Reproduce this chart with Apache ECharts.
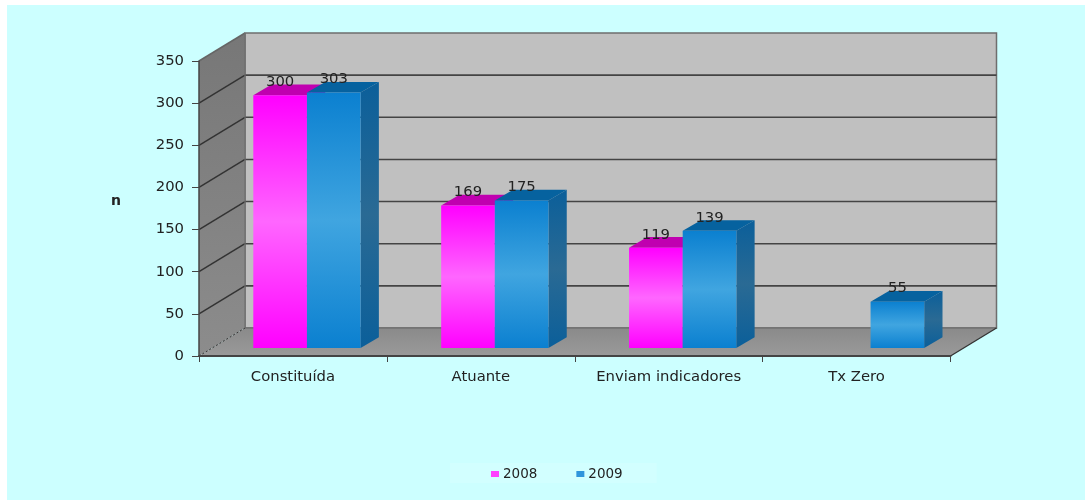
<!DOCTYPE html>
<html><head><meta charset="utf-8">
<style>html,body{margin:0;padding:0;background:#ffffff;width:1085px;height:500px;overflow:hidden}
#back{position:absolute;left:7px;top:5px;width:1078px;height:495px;background:#ccffff}
#chart{position:absolute;left:0;top:0;width:1085px;height:500px}</style>
<script src="https://cdn.jsdelivr.net/npm/echarts@6/dist/echarts.min.js"></script>
</head><body><div id="back"></div><div id="chart"></div>
<script>
const categories = ['Constituída', 'Atuante', 'Enviam indicadores', 'Tx Zero'];
const values2008 = [300, 169, 119, null];
const values2009 = [303, 175, 139, 55];
const yTicks = [0, 50, 100, 150, 200, 250, 300, 350];

const WALL_DX = 46, WALL_DY = 28;
const BAR_SHIFT_X = 14, BAR_SHIFT_Y = 8, BAR_DX = 18.3, BAR_DY = 10.7;
const FONT = '14.8px "DejaVu Sans"';

function vGrad(stops){return new echarts.graphic.LinearGradient(0,0,0,1,stops.map((c,i)=>({offset:i/(stops.length-1),color:c})));}

function renderWalls(params, api){
  const cs = params.coordSys;
  const L = cs.x, R = cs.x + cs.width;
  const B = api.coord([0, 0])[1], T = api.coord([0, 350])[1];
  const ch = [];
  ch.push({type:'polygon',shape:{points:[[L+WALL_DX,T-WALL_DY],[R+WALL_DX,T-WALL_DY],[R+WALL_DX,B-WALL_DY],[L+WALL_DX,B-WALL_DY]]},style:{fill:'#c0c0c0',stroke:'#6e6e6e',lineWidth:1.5}});
  ch.push({type:'polygon',shape:{points:[[L,T],[L+WALL_DX,T-WALL_DY],[L+WALL_DX,B-WALL_DY],[L,B]]},style:{fill:vGrad(['#777777','#8c8c8c'])}});
  ch.push({type:'polygon',shape:{points:[[L,B],[R,B],[R+WALL_DX,B-WALL_DY],[L+WALL_DX,B-WALL_DY]]},style:{fill:vGrad(['#8a8a8a','#9a9a9a'])}});
  yTicks.forEach(t=>{
    const y = api.coord([0,t])[1];
    if(t>0 && t<350){
      ch.push({type:'line',shape:{x1:L+WALL_DX,y1:y-WALL_DY,x2:R+WALL_DX,y2:y-WALL_DY},style:{stroke:'#444444',lineWidth:1.6}});
    }
    if(t>0){
      ch.push({type:'line',shape:{x1:L,y1:y,x2:L+WALL_DX,y2:y-WALL_DY},style:{stroke:t===350?'#666666':'#333333',lineWidth:1.5}});
    }
  });
  ch.push({type:'line',shape:{x1:L,y1:B,x2:L+WALL_DX,y2:B-WALL_DY},style:{stroke:'#333333',lineWidth:1,lineDash:[2,2]}});
  ch.push({type:'line',shape:{x1:L+WALL_DX,y1:B-WALL_DY,x2:R+WALL_DX,y2:B-WALL_DY},style:{stroke:'#666666',lineWidth:1.2}});
  ch.push({type:'line',shape:{x1:R,y1:B,x2:R+WALL_DX,y2:B-WALL_DY},style:{stroke:'#333333',lineWidth:1.3}});
  ch.push({type:'line',shape:{x1:L+WALL_DX,y1:T-WALL_DY,x2:L+WALL_DX,y2:B-WALL_DY},style:{stroke:'#6e6e6e',lineWidth:1.2}});
  return {type:'group',children:ch};
}

function barRenderer(seriesIndex, pal){
  return function(params, api){
    const cat = api.value(0), v = api.value(1);
    if(v == null || isNaN(v)) return null;
    const w = api.size([1,0])[0] * 0.2855;
    const top = api.coord([cat, v]), bot = api.coord([cat, 0]);
    const x0 = top[0] + BAR_SHIFT_X + (seriesIndex === 0 ? -w : 0);
    const x1 = x0 + w;
    const yT = top[1] - BAR_SHIFT_Y, yB = bot[1] - BAR_SHIFT_Y;
    return {type:'group',children:[
      {type:'polygon',shape:{points:[[x1,yT],[x1+BAR_DX,yT-BAR_DY],[x1+BAR_DX,yB-BAR_DY],[x1,yB]]},style:{fill:vGrad(pal.side)}},
      {type:'polygon',shape:{points:[[x0,yT],[x1,yT],[x1+BAR_DX,yT-BAR_DY],[x0+BAR_DX,yT-BAR_DY]]},style:{fill:pal.top}},
      {type:'rect',shape:{x:x0,y:yT,width:w,height:yB-yT},style:{fill:vGrad(pal.front)}},
      {type:'text',z2:50,style:{text:String(v),x:(x0+x1)/2,y:yT-13,align:'center',verticalAlign:'middle',font:FONT,fill:'#222222'}}
    ]};
  };
}
const palettes = [
  {front:['#ff00ff','#ff66ff','#ff00ff'],side:['#c000b0','#c000b0'],top:'#c000b0'},
  {front:['#0b80d0','#40a5e0','#0b80d0'],side:['#0b5f9a','#2a6a94','#0b5f9a'],top:'#06629f'}
];

const chart = echarts.init(document.getElementById('chart'));
chart.setOption({
  backgroundColor:'transparent',
  animation:false,
  legend:{
    data:[{name:'2008',itemStyle:{color:'#ff40ff'}},{name:'2009',itemStyle:{color:'#2f95dc'}}],
    icon:'rect',left:450,top:463,itemWidth:8,itemHeight:6,itemGap:39,
    padding:[4,34,2,41],backgroundColor:'#d2ffff',
    textStyle:{fontFamily:'DejaVu Sans',fontSize:13.5,color:'#222222',padding:[0,0,0,-1]}
  },
  grid:{left:199,right:134.5,top:61,bottom:144},
  xAxis:{type:'category',data:categories,z:5,
    axisLine:{lineStyle:{color:'#444444',width:2}},
    axisTick:{show:true,interval:0,alignWithLabel:false,length:6,lineStyle:{color:'#444444'}},
    axisLabel:{interval:0,fontFamily:'DejaVu Sans',fontSize:14.8,color:'#222222',margin:14}},
  yAxis:{type:'value',min:0,max:350,interval:50,name:'n',nameLocation:'middle',nameRotate:0,nameGap:78,
    nameTextStyle:{fontFamily:'DejaVu Sans',fontSize:14,fontWeight:'bold',color:'#222222',verticalAlign:'bottom'},z:5,
    axisLine:{show:true,lineStyle:{color:'#444444',width:1.5}},
    axisTick:{show:true,length:7,lineStyle:{color:'#444444'}},
    axisLabel:{fontFamily:'DejaVu Sans',fontSize:14.8,color:'#222222',margin:15,padding:[4,0,0,0]},
    splitLine:{show:false}},
  series:[
    {type:'custom',silent:true,z:1,clip:false,data:[[0,0]],encode:{x:0,y:1},renderItem:renderWalls},
    {type:'custom',name:'2008',z:2,clip:false,itemStyle:{color:'#ff40ff'},data:values2008.map((v,i)=>[i,v]),encode:{x:0,y:1},renderItem:barRenderer(0,palettes[0])},
    {type:'custom',name:'2009',z:3,clip:false,itemStyle:{color:'#2f95dc'},data:values2009.map((v,i)=>[i,v]),encode:{x:0,y:1},renderItem:barRenderer(1,palettes[1])}
  ]
});
</script></body></html>
